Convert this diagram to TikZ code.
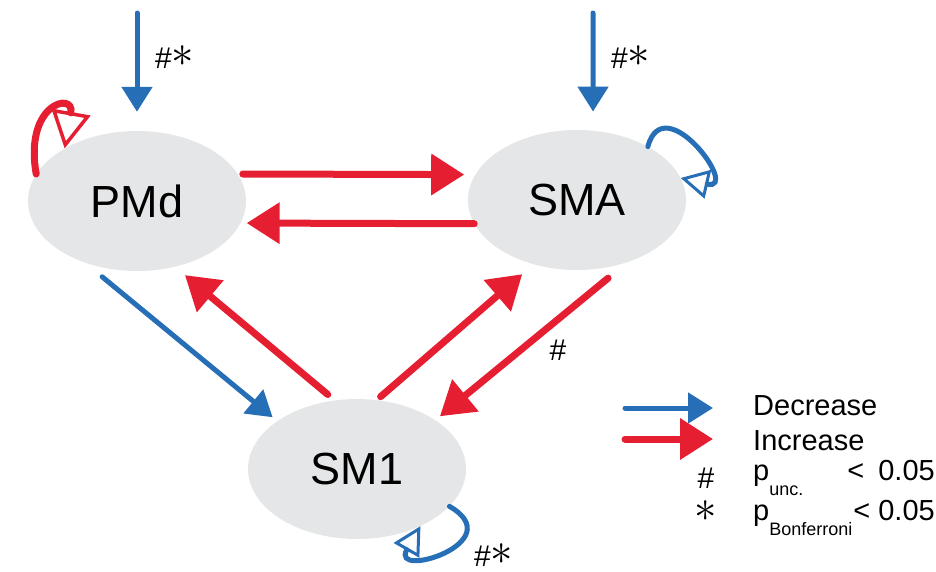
\documentclass[tikz,border=0pt]{standalone}
\usepackage{fontspec}
\setmainfont{Liberation Sans}
\usepackage{graphicx}
\usepackage{tikz}
\usetikzlibrary{shapes.geometric,arrows.meta}
\definecolor{decblue}{RGB}{38,110,182}
\definecolor{incred}{RGB}{230,30,50}
\definecolor{nodegray}{RGB}{229,230,231}
\newcommand{\sigast}{\raisebox{2pt}{\scalebox{1.8}{$\ast$}}}
\tikzset{
  region/.style ={ellipse, fill=nodegray, minimum width=218pt, minimum height=140pt,
                  inner sep=0pt, font=\fontsize{45}{54}\selectfont},
  decflow/.style={-{Triangle[length=25pt,width=30pt]}, line width=5pt, line cap=round, draw=decblue},
  incflow/.style={-{Triangle[length=33pt,width=40pt]}, line width=7pt, line cap=round, draw=incred},
  decloop/.style={-{Triangle[open,length=28pt,width=29pt,line width'=3pt]}, line width=5pt,
                  line cap=round, draw=decblue},
  incloop/.style={-{Triangle[open,length=37pt,width=39pt,line width'=3.5pt]}, line width=7pt,
                  line cap=round, draw=incred},
  sig/.style    ={font=\fontsize{30}{34}\selectfont, inner sep=0pt},
  lgd/.style    ={font=\fontsize{29}{34}\selectfont, inner sep=0pt, anchor=base west}
}

\begin{document}
\begin{tikzpicture}[x=1pt,y=-1pt]
\useasboundingbox (0,0) rectangle (936,571);
\node[region] (pmd) at (137,201) {PMd};
\node[region] (sma) at (577,200) {SMA};
\node[region] (sm1) at (357,469) {SM1};
\coordinate (pmdin) at (137,13);
\coordinate (smain) at (593,13);

% external input
\draw[decflow, shorten >=19pt] (pmdin) -- (pmd.north);
\draw[decflow, shorten >=19pt] (smain) -- (sma.77);
\node[sig, anchor=base west] (pmdsig) at (155,68) {\#\sigast};
\node[sig, anchor=base west] (smasig) at (611,68) {\#\sigast};

% between regions
\draw[incflow, shorten <=5pt, shorten >=11pt] (pmd.15) -- (sma.166);
\draw[incflow, shorten >=6pt] (sma.193) -- (pmd.-12);
\draw[decflow, shorten <=22pt, shorten >=6pt] (pmd.230) -- (sm1.149);
\draw[incflow, shorten <=9pt, shorten >=13pt] (sm1.108) -- (pmd.-60);
\draw[incflow, shorten <=5pt, shorten >=15pt] (sm1.74) -- (sma.236);
\draw[incflow, shorten <=25pt, shorten >=6pt] (sma.-51) -- (sm1.32);
\node[sig, anchor=base] (smasm1) at (558,360) {\#};

% self connections
\draw[incloop] (pmd.165) .. controls +(100:72pt) and +(80:58pt) .. (pmd.144);
\draw[decloop] (sma.37) .. controls +(75:62pt) and +(-13:62pt) .. (sma.12);
\draw[decloop] (sm1.-22) .. controls +(-30:72pt) and +(240:62pt) .. (sm1.-42);
\node[sig, anchor=base west] (sm1sig) at (474,566) {\#\sigast};

% legend
\coordinate (decl) at (625,408);
\coordinate (decr) at (713,408);
\coordinate (incl) at (625,439);
\coordinate (incr) at (713,439);
\draw[decflow] (decl) -- (decr);
\draw[incflow] (incl) -- (incr);
\node[lgd] (dectxt) at (753,415) {Decrease};
\node[lgd] (inctxt) at (753,450) {Increase};
\node[sig, anchor=base] (unchash) at (706,488) {\#};
\node[lgd] (uncp) at (753,480) {p\raisebox{-15pt}{\fontsize{18}{20}\selectfont unc.}};
\node[lgd, anchor=base east] (uncval) at (935,480) {<\hspace{14pt}0.05};
\node[sig, anchor=base] (bonstar) at (706,523) {\sigast};
\node[lgd] (bonp) at (753,520) {p\raisebox{-15pt}{\fontsize{18}{20}\selectfont Bonferroni}};
\node[lgd, anchor=base east] (bonval) at (935,520) {< 0.05};
\end{tikzpicture}
\end{document}
